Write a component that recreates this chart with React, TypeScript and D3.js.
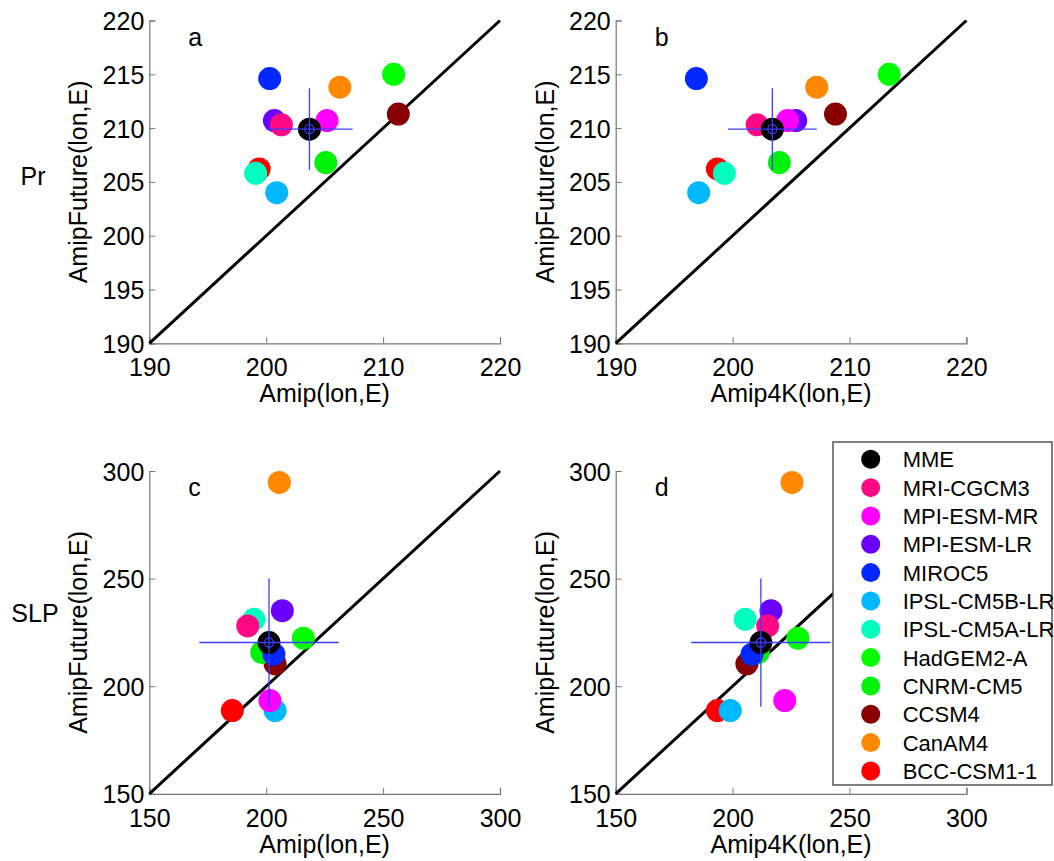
import React, { useEffect, useRef } from 'react';
import * as d3 from 'd3';

// model names and colours, legend order
const models = ['MME', 'MRI-CGCM3', 'MPI-ESM-MR', 'MPI-ESM-LR', 'MIROC5', 'IPSL-CM5B-LR',
  'IPSL-CM5A-LR', 'HadGEM2-A', 'CNRM-CM5', 'CCSM4', 'CanAM4', 'BCC-CSM1-1'];
const colors = ['#000000', '#ff0a84', '#ff00ff', '#6a00ff', '#0028ff', '#00b8ff',
  '#00ffbf', '#00ff00', '#00f20a', '#880000', '#ff8800', '#ff0000'];

// Pr (lon, E)
const prAmip = [203.7, 201.3, 205.2, 200.7, 200.3, 200.9, 199.1, 210.9, 205.1, 211.3, 206.3, 199.4];
const prAmip4K = [203.4, 202.1, 204.7, 205.4, 196.9, 197.1, 199.3, 213.4, 204.0, 208.8, 207.2, 198.7];
const prFuture = [209.9, 210.3, 210.7, 210.7, 214.6, 204.0, 205.8, 215.0, 206.8, 211.3, 213.8, 206.2];

// SLP (lon, E)
const slpAmip = [201.2, 192.1, 201.6, 206.9, 203.3, 203.8, 194.8, 215.9, 198.1, 203.8, 205.6, 185.5];
const slpAmip4K = [212.1, 215.0, 222.3, 216.4, 208.3, 199.0, 205.4, 227.9, 211.0, 206.1, 225.4, 193.5];
const slpFuture = [220.3, 228.0, 193.3, 235.1, 214.9, 188.7, 231.1, 222.3, 215.7, 210.4, 294.7, 188.7];

// MME spread (x, y) per panel
const mmeSpreadX = [3.7, 3.8, 29.8, 29.8];
const mmeSpreadY = [3.8, 3.8, 29.8, 29.8];

const prTicksX = [190, 200, 210, 220];
const prTicksY = [190, 195, 200, 205, 210, 215, 220];
const slpTicks = [150, 200, 250, 300];

const panelLetters = ['a', 'b', 'c', 'd'];
const xTitles = ['Amip(lon,E)', 'Amip4K(lon,E)', 'Amip(lon,E)', 'Amip4K(lon,E)'];
const rowTitles = ['Pr', 'SLP'];

const FONT = 'Arial, "Liberation Sans", Helvetica, sans-serif';

export default function App() {
  const ref = useRef<SVGSVGElement>(null);

  useEffect(() => {
    const svg = d3.select(ref.current);
    svg.selectAll('*').remove();

    const panels = [
      { x0: 149.3, y0: 20.5, dom: [190, 220], xt: prTicksX, yt: prTicksY, xs: prAmip, ys: prFuture },
      { x0: 615.7, y0: 20.5, dom: [190, 220], xt: prTicksX, yt: prTicksY, xs: prAmip4K, ys: prFuture },
      { x0: 149.3, y0: 471, dom: [150, 300], xt: slpTicks, yt: slpTicks, xs: slpAmip, ys: slpFuture },
      { x0: 615.7, y0: 471, dom: [150, 300], xt: slpTicks, yt: slpTicks, xs: slpAmip4K, ys: slpFuture },
    ];
    const W = 350.7;
    const H = 322.8;

    panels.forEach((p, i) => {
      const x = d3.scaleLinear().domain(p.dom).range([p.x0, p.x0 + W]);
      const y = d3.scaleLinear().domain(p.dom).range([p.y0 + H, p.y0]);
      const g = svg.append('g');

      // axes (left + bottom only, ticks inward)
      const ax = g.append('g').attr('transform', `translate(0,${p.y0 + H})`)
        .call(d3.axisBottom(x).tickValues(p.xt).tickSize(-6).tickPadding(0).tickFormat(d3.format('d')));
      ax.select('.domain').attr('stroke', '#777').attr('stroke-width', 1.2);
      ax.selectAll('.tick line').attr('stroke', '#777');
      ax.selectAll('.tick text').attr('y', 33).attr('dy', 0).attr('fill', '#000')
        .attr('font-size', 25).attr('font-family', FONT);

      const ay = g.append('g').attr('transform', `translate(${p.x0},0)`)
        .call(d3.axisLeft(y).tickValues(p.yt).tickSize(-6).tickPadding(0).tickFormat(d3.format('d')));
      ay.select('.domain').attr('stroke', '#777').attr('stroke-width', 1.2);
      ay.selectAll('.tick line').attr('stroke', '#777');
      ay.selectAll('.tick text').attr('x', -5).attr('dy', '0.36em').attr('fill', '#000')
        .attr('font-size', 25).attr('font-family', FONT);

      // 1:1 line
      g.append('line')
        .attr('x1', x(p.dom[0])).attr('y1', y(p.dom[0]))
        .attr('x2', x(p.dom[1])).attr('y2', y(p.dom[1]))
        .attr('stroke', '#000').attr('stroke-width', 3);

      // points, drawn in reverse so MME ends on top
      const order = d3.range(models.length).reverse();
      g.selectAll('circle.pt').data(order).enter()
        .append('circle')
        .attr('class', 'pt')
        .attr('cx', (d) => x(p.xs[d]))
        .attr('cy', (d) => y(p.ys[d]))
        .attr('r', 11.5)
        .attr('fill', (d) => colors[d]);

      // MME spread cross
      const mx = p.xs[0];
      const my = p.ys[0];
      const blue = '#3d3dff';
      g.append('line')
        .attr('x1', x(mx - mmeSpreadX[i])).attr('x2', x(mx + mmeSpreadX[i]))
        .attr('y1', y(my)).attr('y2', y(my))
        .attr('stroke', blue).attr('stroke-width', 1.3);
      g.append('line')
        .attr('x1', x(mx)).attr('x2', x(mx))
        .attr('y1', y(my - mmeSpreadY[i])).attr('y2', y(my + mmeSpreadY[i]))
        .attr('stroke', blue).attr('stroke-width', 1.3);
      g.append('circle')
        .attr('cx', x(mx)).attr('cy', y(my)).attr('r', 4.5)
        .attr('fill', 'none').attr('stroke', blue).attr('stroke-width', 1.3);

      // labels
      g.append('text')
        .attr('x', p.x0 + 39).attr('y', p.y0 + 25)
        .attr('font-size', 25).attr('font-family', FONT)
        .text(panelLetters[i]);
      g.append('text')
        .attr('x', p.x0 + W / 2).attr('y', p.y0 + H + 59)
        .attr('text-anchor', 'middle')
        .attr('font-size', 25).attr('font-family', FONT)
        .text(xTitles[i]);
      g.append('text')
        .attr('transform', `translate(${p.x0 - 62},${p.y0 + H / 2}) rotate(-90)`)
        .attr('text-anchor', 'middle')
        .attr('font-size', 25).attr('font-family', FONT)
        .text('AmipFuture(lon,E)');
    });

    // row titles
    svg.selectAll('text.row').data(rowTitles).enter()
      .append('text')
      .attr('class', 'row')
      .attr('x', (d, k) => (k === 0 ? 33 : 35))
      .attr('y', (d, k) => (k === 0 ? 185 : 622))
      .attr('text-anchor', 'middle')
      .attr('font-size', 25).attr('font-family', FONT)
      .text((d) => d);

    // legend
    const lg = svg.append('g');
    lg.append('rect')
      .attr('x', 833).attr('y', 442).attr('width', 219).attr('height', 343)
      .attr('fill', '#fff').attr('stroke', '#555').attr('stroke-width', 1.5);
    const rows = lg.selectAll('g.item').data(models).enter()
      .append('g')
      .attr('class', 'item')
      .attr('transform', (d, k) => `translate(870.7,${459.3 + k * 28.33})`);
    rows.append('circle').attr('r', 9.5).attr('fill', (d, k) => colors[k]);
    rows.append('text')
      .attr('x', 32).attr('dy', '0.36em')
      .attr('font-size', 22).attr('font-family', FONT)
      .text((d) => d);
  }, []);

  return (
    <svg
      ref={ref}
      width={1054}
      height={861}
      style={{ position: 'absolute', left: 0, top: 0, background: '#fff' }}
    />
  );
}
